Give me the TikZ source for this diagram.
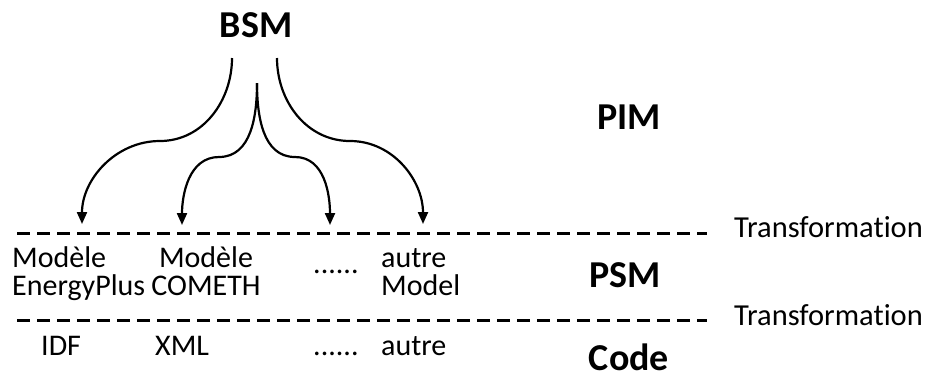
\documentclass[tikz,border=0pt]{standalone}
\usepackage{fontspec}
\setmainfont{Carlito}[Ligatures=CommonOff]
\usetikzlibrary{arrows.meta}

\begin{document}
\begin{tikzpicture}[x=1pt, y=-1pt,
        txt/.style={font=\fontsize{30}{28}\selectfont, inner sep=0pt},
        level/.style={font=\fontsize{38}{40}\selectfont\bfseries, inner sep=0pt, anchor=base},
        sep/.style={line width=3pt, dash pattern=on 13pt off 7pt},
        branch/.style={line width=2.2pt, -{Triangle[width=10pt, length=12pt]}}]
        \useasboundingbox (0, 0) rectangle (925, 376);

        \node[level] (bsm) at (256, 37) {BSM};
        \node[level] (pim) at (629, 129) {PIM};
        \node[level] (psm) at (625, 287) {PSM};
        \node[level] (code) at (629, 370) {Code};

        \coordinate (S1) at (17, 233);
        \coordinate (E1) at (707, 233);
        \coordinate (S2) at (17, 320);
        \coordinate (E2) at (707, 320);

        \draw[sep] (S1) -- (E1);
        \draw[sep] (S2) -- (E2);

        \node[txt, anchor=base west, font=\fontsize{30.5}{28}\selectfont] (tr1) at (734, 237) {Transformation};
        \node[txt, anchor=base west, font=\fontsize{30.5}{28}\selectfont] (tr2) at (734, 325) {Transformation};

        % base anchor sits on the last line
        \node[txt, anchor=base west, align=left] (eplus) at (12, 295) {Modèle\\EnergyPlus};
        \node[txt, anchor=base, align=center] (cometh) at (206, 295) {Modèle\\COMETH};
        \node[txt, anchor=base west] (dots1) at (313, 273) {......};
        \node[txt, anchor=base west, align=left] (other) at (381, 295) {autre\\Model};

        \node[txt, anchor=base west] (idf) at (41, 355) {IDF};
        \node[txt, anchor=base west] (xml) at (155, 355) {XML};
        \node[txt, anchor=base west] (dots2) at (313, 355) {......};
        \node[txt, anchor=base west] (autre) at (381, 355) {autre};

        \coordinate (A) at (232, 58);
        \coordinate (B) at (257, 83);
        \coordinate (C) at (277, 58);

        \coordinate (AM) at (160, 141);
        \coordinate (BL) at (219, 157);
        \coordinate (BR) at (295, 157);
        \coordinate (CM) at (350, 141);

        \coordinate (AA) at (82, 224);
        \coordinate (BB) at (182, 225);
        \coordinate (BC) at (330, 225);
        \coordinate (CC) at (423, 224);

        \draw[branch] (A) to[out=-90, in=0] (AM) to[out=180, in=90] (AA);
        \draw[branch] (B) to[out=-90, in=0] (BL) to[out=180, in=90] (BB);
        \draw[branch] (B) to[out=-90, in=180] (BR) to[out=0, in=90] (BC);
        \draw[branch] (C) to[out=-90, in=180] (CM) to[out=0, in=90] (CC);

    \end{tikzpicture}
\end{document}
